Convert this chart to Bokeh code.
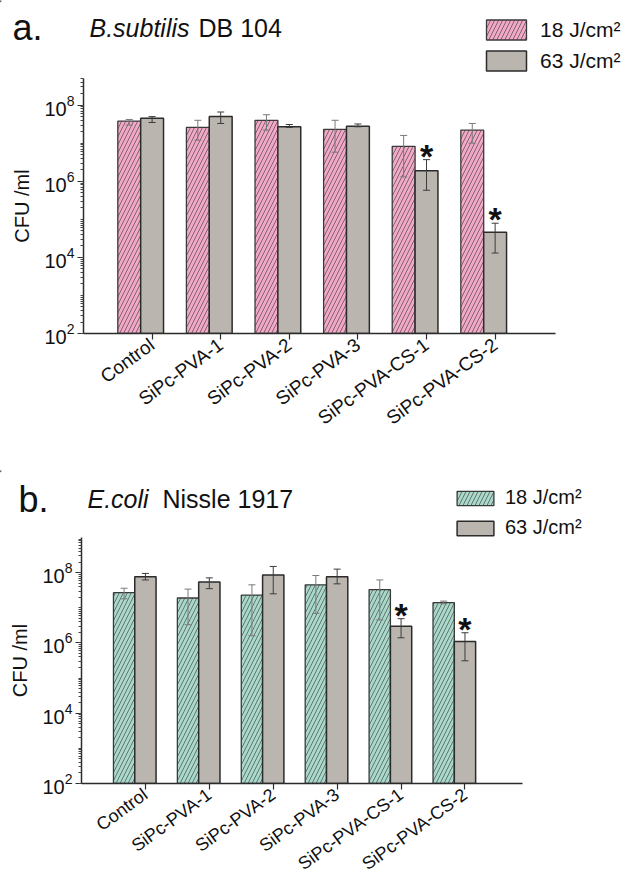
from bokeh.plotting import figure
from bokeh.models import (ColumnDataSource, Range1d, FixedTicker, Whisker, TeeHead,
                          Legend, LegendItem)
from bokeh.embed import file_html
from bokeh.resources import INLINE
from bokeh.core.properties import value

FONT = "Liberation Sans"

# ---------------- data ----------------
categories = ["Control", "SiPc-PVA-1", "SiPc-PVA-2", "SiPc-PVA-3", "SiPc-PVA-CS-1", "SiPc-PVA-CS-2"]
xpos = [1, 2, 3, 4, 5, 6]
dose_labels = ["18 J/cm\u00b2", "63 J/cm\u00b2"]
y_major = [1e2, 1e4, 1e6, 1e8]

# panel a: B.subtilis DB 104
a_18 = [3.8e7, 2.6e7, 4.0e7, 2.3e7, 8.3e6, 2.2e7]
a_18_hi = [4.2e7, 4.0e7, 5.6e7, 4.0e7, 1.6e7, 3.3e7]
a_18_lo = [3.0e7, 1.2e7, 2.2e7, 5.8e6, 1.3e6, 1.0e7]
a_63 = [4.5e7, 5.0e7, 2.7e7, 2.8e7, 1.9e6, 4.6e4]
a_63_hi = [5.0e7, 6.6e7, 3.1e7, 3.2e7, 3.7e6, 7.9e4]
a_63_lo = [3.5e7, 3.3e7, 2.6e7, 2.7e7, 5.8e5, 1.3e4]
a_sig = ["", "", "", "", "*", "*"]

# panel b: E.coli Nissle 1917
b_18 = [2.7e7, 1.9e7, 2.3e7, 4.5e7, 3.3e7, 1.4e7]
b_18_hi = [3.6e7, 3.4e7, 4.5e7, 8.3e7, 6.2e7, 1.55e7]
b_18_lo = [1.8e7, 3.3e6, 1.6e6, 6.9e6, 4.5e6, 1.3e7]
b_63 = [7.7e7, 5.4e7, 8.6e7, 7.7e7, 3.0e6, 1.1e6]
b_63_hi = [9.5e7, 7.1e7, 1.5e8, 1.26e8, 4.9e6, 1.95e6]
b_63_lo = [6.2e7, 3.5e7, 2.5e7, 4.8e7, 1.4e6, 3.1e5]
b_sig = ["", "", "", "", "*", "*"]

PINK = "#F2A8C7"
TEAL = "#A9D8CB"
GRAY = "#BAB6AF"
DARK = "#2b2b2b"
TXT = "#111111"
W = 630

LOW_STYLE = dict(line_color="#3a3a3a", line_width=1.3, hatch_pattern="/",
                 hatch_color="#333333", hatch_weight=0.7, hatch_scale=8, hatch_alpha=0.85)
HIGH_STYLE = dict(fill_color=GRAY, line_color="#2b2b2b", line_width=1.5)


def header(height, low_color, tag, tag_xy, sp_it, sp_it_xy, sp_rest, sp_rest_xy,
           leg_xy, glyph_w, glyph_h, leg_spacing, leg_font, leg_standoff):
    """Strip above a panel: panel letter, organism name and the dose legend."""
    h = figure(width=W, height=height, x_range=Range1d(0, W), y_range=Range1d(height, 0),
               output_backend="svg", toolbar_location=None,
               x_axis_location=None, y_axis_location=None,
               min_border_left=0, min_border_right=0, min_border_top=0, min_border_bottom=0)
    h.outline_line_color = None
    h.xgrid.visible = False
    h.ygrid.visible = False
    h.background_fill_color = "white"
    h.border_fill_color = "white"
    h.text(x=[tag_xy[0]], y=[tag_xy[1]], text=[tag], text_font=value(FONT),
           text_font_size="36px", text_color=TXT, text_baseline="alphabetic")
    h.text(x=[sp_it_xy[0]], y=[sp_it_xy[1]], text=[sp_it], text_font=value(FONT),
           text_font_size="25px", text_font_style="italic", text_color=TXT,
           text_baseline="alphabetic")
    h.text(x=[sp_rest_xy[0]], y=[sp_rest_xy[1]], text=[sp_rest], text_font=value(FONT),
           text_font_size="25px", text_color=TXT, text_baseline="alphabetic")
    # legend swatches take their style from bar renderers styled like the bars
    # (their single point lies outside the strip, so only the legend shows them)
    r_low = h.vbar(x=[-1000], top=[1], bottom=[0], width=1, fill_color=low_color, **LOW_STYLE)
    r_high = h.vbar(x=[-1000], top=[1], bottom=[0], width=1, **HIGH_STYLE)
    legend = Legend(items=[LegendItem(label=dose_labels[0], renderers=[r_low]),
                           LegendItem(label=dose_labels[1], renderers=[r_high])],
                    location=leg_xy, orientation="vertical",
                    glyph_width=glyph_w, glyph_height=glyph_h, label_height=glyph_h,
                    spacing=leg_spacing, padding=0, margin=0,
                    border_line_color=None, background_fill_alpha=0,
                    label_text_font=FONT, label_text_font_size=leg_font,
                    label_text_color=TXT, label_standoff=leg_standoff)
    h.add_layout(legend)
    return h


def chart(height, bl, br, bb, x_end, y_end,
          low, low_hi, low_lo, high, high_hi, high_lo, sig, low_color, xlabel_size):
    p = figure(width=W, height=height, y_axis_type="log",
               x_range=Range1d(0, x_end), y_range=Range1d(1e2, y_end),
               output_backend="svg", toolbar_location=None,
               min_border_left=bl, min_border_right=br,
               min_border_top=0, min_border_bottom=bb)
    p.outline_line_color = None
    p.xgrid.visible = False
    p.ygrid.visible = False
    p.background_fill_color = "white"
    p.border_fill_color = "white"

    bar_w = 1 / 3
    x_low = [x - bar_w for x in xpos]
    s_low = ColumnDataSource(dict(x=x_low, v=low, hi=low_hi, lo=low_lo))
    s_high = ColumnDataSource(dict(x=xpos, v=high, hi=high_hi, lo=high_lo, sig=sig))

    p.vbar(x="x", top="v", bottom=1e2, width=bar_w, source=s_low,
           fill_color=low_color, **LOW_STYLE)
    p.vbar(x="x", top="v", bottom=1e2, width=bar_w, source=s_high, **HIGH_STYLE)

    for src, col in ((s_low, "#7a7a7a"), (s_high, "#3c3c3c")):
        w = Whisker(base="x", upper="hi", lower="lo", source=src, dimension="height",
                    line_color=col, line_width=1,
                    upper_head=TeeHead(size=7, line_color=col, line_width=1),
                    lower_head=TeeHead(size=7, line_color=col, line_width=1))
        w.level = "annotation"
        p.add_layout(w)

    p.text(x="x", y="hi", text="sig", source=s_high, text_font=value(FONT),
           text_font_size="34px", text_font_style="bold", text_color=TXT,
           text_align="center", text_baseline="alphabetic", y_offset=-4)

    p.xaxis.ticker = FixedTicker(ticks=xpos)
    p.xaxis.major_label_overrides = {x: c for x, c in zip(xpos, categories)}
    p.xaxis.major_label_orientation = 0.63
    p.xaxis.minor_tick_line_color = None
    minor = [m * 10.0 ** k for k in range(2, 9) for m in range(1, 10)]
    p.yaxis.ticker = FixedTicker(ticks=y_major, minor_ticks=minor)
    p.yaxis.axis_label = "CFU /ml"
    p.yaxis.axis_label_standoff = 8
    for ax in (p.xaxis, p.yaxis):
        ax.axis_line_color = DARK
        ax.axis_line_width = 1.5
        ax.major_tick_line_color = DARK
        ax.major_tick_line_width = 1.2
        ax.major_tick_in = 0
        ax.major_tick_out = 6
        ax.major_label_text_font = FONT
        ax.major_label_text_color = TXT
        ax.major_label_standoff = 3
        ax.axis_label_text_font = FONT
        ax.axis_label_text_font_style = "normal"
        ax.axis_label_text_color = TXT
        ax.axis_label_text_font_size = "20px"
    p.xaxis.major_label_text_font_size = xlabel_size
    p.yaxis.major_label_text_font_size = "20px"
    p.yaxis.minor_tick_line_color = "#444444"
    p.yaxis.minor_tick_in = 0
    p.yaxis.minor_tick_out = 3
    return p


h1 = header(78, PINK, "a.", (12, 27), "B.subtilis", (89, 27), "DB 104", (198, 27),
            (481, 5), 50, 25, 6, "21px", 9)
c1 = chart(392, 83, 75, 137, 6.88, 10 ** 8.7,
           a_18, a_18_hi, a_18_lo, a_63, a_63_hi, a_63_lo, a_sig, PINK, "19px")

h2 = header(67, TEAL, "b.", (18, 29), "E.coli", (87, 28), "Nissle 1917", (162, 28),
            (452, -2), 46, 18, 7, "20px", 7)
c2 = chart(348, 81, 108, 99, 6.9, 1e9,
           b_18, b_18_hi, b_18_lo, b_63, b_63_hi, b_63_lo, b_sig, TEAL, "18px")

# each strip is its own root so that Bokeh does not align their frames
open("out.html", "w").write(file_html([h1, c1, h2, c2], INLINE))
